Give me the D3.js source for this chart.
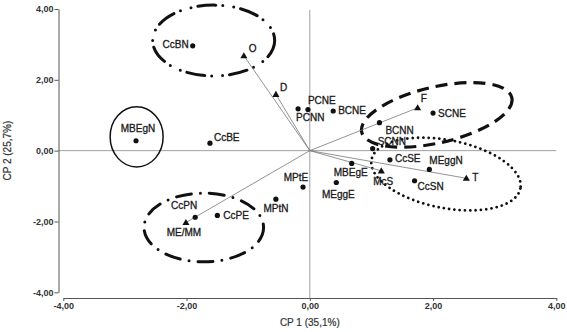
<!DOCTYPE html>
<html>
<head>
<meta charset="utf-8">
<script src="https://cdn.jsdelivr.net/npm/d3@7"></script>
<style>
  body { margin: 0; background: #fff; }
  svg { display: block; }
  text { font-family: "Liberation Sans", Arial, Helvetica, sans-serif; }
</style>
</head>
<body>
<svg id="chart" width="567" height="332"></svg>
<script>
// Observation scores on the first two principal components
const pointNames = ["CcBN", "MBEgN", "CcBE", "PCNN", "PCNE", "BCNE", "SCNE", "BCNN", "SCNN",
                    "CcSE", "MEggN", "MBEgE", "CcSN", "MEggE", "MPtE", "MPtN", "CcPE", "CcPN"];
const pointX = [-1.90, -2.82, -1.62, -0.19, -0.03, 0.38, 2.00, 1.13, 1.02,
                 1.30, 1.94, 0.68, 1.70, 0.43, -0.11, -0.55, -1.50, -1.86];
const pointY = [2.96, 0.28, 0.21, 1.18, 1.16, 1.12, 1.06, 0.79, 0.06,
                -0.26, -0.53, -0.36, -0.85, -0.90, -1.03, -1.37, -1.83, -1.88];

// Variable loadings, drawn as vectors from the origin
const vectorNames = ["O", "D", "F", "T", "McS", "ME/MM"];
const vectorX = [-1.07, -0.55, 1.75, 2.54, 1.16, -2.01];
const vectorY = [2.68, 1.59, 1.21, -0.78, -0.57, -2.03];

// Axes
const tickValues = [-4, -2, 0, 2, 4];
const xTitle = "CP 1 (35,1%)";
const yTitle = "CP 2 (25,7%)";

// Group outlines: centre, radii (in axis units) and tilt (degrees on screen)
const groupNames = ["topGroup", "isolated", "bottomGroup", "upperRight", "lowerRight"];
const groupCx = [-1.56, -2.81, -1.72, 2.06, 2.21];
const groupCy = [3.11, 0.39, -2.17, 1.01, -0.66];
const groupRx = [0.99, 0.43, 0.97, 1.25, 1.23];
const groupRy = [1.00, 0.85, 0.97, 0.79, 0.96];
const groupTilt = [0, 0, 0, -13, 11];

// ---- layout ----
const svg = d3.select("#chart");
const x = d3.scaleLinear().domain([-4, 4]).range([63.3, 556.3]);
const y = d3.scaleLinear().domain([-4, 4]).range([292.3, 9]);
const xAxisY = 298;
const yAxisX = 58.5;

const locale = d3.formatLocale({ decimal: ",", thousands: ".", grouping: [3], currency: ["", ""], minus: "-" });
const fmt = locale.format(".2f");

// label placement around each mark
const labelPos = {
  CcBN:  { dx: -4, dy: -1, anchor: "end" },
  MBEgN: { dx: 2, dy: -12, anchor: "middle" },
  CcBE:  { dx: 4, dy: -6, anchor: "start" },
  PCNN:  { dx: -2, dy: 9, anchor: "start" },
  PCNE:  { dx: 0, dy: -9, anchor: "start" },
  BCNE:  { dx: 5, dy: 0, anchor: "start" },
  SCNE:  { dx: 5, dy: 0, anchor: "start" },
  BCNN:  { dx: 6, dy: 8, anchor: "start" },
  SCNN:  { dx: 5, dy: -7, anchor: "start" },
  CcSE:  { dx: 5, dy: -1, anchor: "start" },
  MEggN: { dx: 0, dy: -9, anchor: "start" },
  MBEgE: { dx: -1, dy: 9, anchor: "middle" },
  CcSN:  { dx: 3, dy: 6, anchor: "start" },
  MEggE: { dx: 2, dy: 12, anchor: "middle" },
  MPtE:  { dx: -7, dy: -10, anchor: "middle" },
  MPtN:  { dx: 0, dy: 9, anchor: "middle" },
  CcPE:  { dx: 6, dy: 0, anchor: "start" },
  CcPN:  { dx: -11, dy: -12, anchor: "middle" },
  "O":     { dx: 5, dy: -7, anchor: "start" },
  "D":     { dx: 4, dy: -7, anchor: "start" },
  "F":     { dx: 3, dy: -9, anchor: "start" },
  "T":     { dx: 6, dy: -1, anchor: "start" },
  "McS":   { dx: 2, dy: 11, anchor: "middle" },
  "ME/MM": { dx: -2, dy: 10, anchor: "middle" }
};

const groupStyle = {
  topGroup:    { width: 3, dash: "18 7 0 11 0 7", cap: "round" },
  isolated:    { width: 1.5, dash: null, cap: "butt" },
  bottomGroup: { width: 3, dash: "15 9 0 9", cap: "round" },
  upperRight:  { width: 3.2, dash: "12 7", cap: "butt" },
  lowerRight:  { width: 2.8, dash: "0 5.3", cap: "round" }
};

// reference lines through the origin
svg.append("line")
  .attr("x1", x(0)).attr("x2", x(0))
  .attr("y1", y(4) + 1).attr("y2", xAxisY)
  .attr("stroke", "#a0a0a0").attr("stroke-width", 1);
svg.append("line")
  .attr("x1", yAxisX).attr("x2", x(4))
  .attr("y1", y(0)).attr("y2", y(0))
  .attr("stroke", "#a0a0a0").attr("stroke-width", 1);

// x axis
const gx = svg.append("g")
  .attr("transform", `translate(0,${xAxisY})`)
  .call(d3.axisBottom(x).tickValues(tickValues).tickSize(3).tickSizeOuter(0).tickPadding(2).tickFormat(fmt));
// y axis
const gy = svg.append("g")
  .attr("transform", `translate(${yAxisX},0)`)
  .call(d3.axisLeft(y).tickValues(tickValues).tickSize(4).tickSizeOuter(0).tickPadding(1).tickFormat(fmt));

[gx, gy].forEach(g => {
  g.select(".domain").attr("stroke", "#555");
  g.selectAll(".tick line").attr("stroke", "#555");
  g.selectAll(".tick text")
    .attr("fill", "#333")
    .style("font-size", "9px")
    .style("font-weight", "bold")
    .style("font-family", "'Liberation Sans', Arial, sans-serif");
});

// axis titles
svg.append("text")
  .attr("x", x(0)).attr("y", 325.5)
  .attr("text-anchor", "middle")
  .attr("fill", "#333")
  .attr("stroke", "#333").attr("stroke-width", 0.2)
  .style("font-size", "10px")
  .text(xTitle);
svg.append("text")
  .attr("transform", `translate(10.5,${y(0)}) rotate(-90)`)
  .attr("text-anchor", "middle")
  .attr("fill", "#333")
  .attr("stroke", "#333").attr("stroke-width", 0.2)
  .style("font-size", "10px")
  .text(yTitle);

// group outlines
const groups = groupNames.map((n, i) => ({
  name: n, cx: groupCx[i], cy: groupCy[i], rx: groupRx[i], ry: groupRy[i], tilt: groupTilt[i]
}));
svg.append("g").selectAll("ellipse")
  .data(groups)
  .join("ellipse")
  .attr("cx", 0).attr("cy", 0)
  .attr("rx", d => x(d.cx + d.rx) - x(d.cx))
  .attr("ry", d => y(d.cy) - y(d.cy + d.ry))
  .attr("transform", d => `translate(${x(d.cx)},${y(d.cy)}) rotate(${d.tilt})`)
  .attr("fill", "none")
  .attr("stroke", "#111")
  .attr("stroke-width", d => groupStyle[d.name].width)
  .attr("stroke-dasharray", d => groupStyle[d.name].dash)
  .attr("stroke-linecap", d => groupStyle[d.name].cap);

// loading vectors
const vectors = vectorNames.map((n, i) => ({ name: n, x: vectorX[i], y: vectorY[i] }));
svg.append("g").selectAll("line")
  .data(vectors)
  .join("line")
  .attr("x1", x(0)).attr("y1", y(0))
  .attr("x2", d => x(d.x)).attr("y2", d => y(d.y))
  .attr("stroke", "#777")
  .attr("stroke-width", 0.8);

const tri = d3.symbol().type(d3.symbolTriangle).size(22);
svg.append("g").selectAll("path")
  .data(vectors)
  .join("path")
  .attr("d", tri)
  .attr("transform", d => `translate(${x(d.x)},${y(d.y) + 0.5})`)
  .attr("fill", "#111");

// observation points
const points = pointNames.map((n, i) => ({ name: n, x: pointX[i], y: pointY[i] }));
svg.append("g").selectAll("circle")
  .data(points)
  .join("circle")
  .attr("cx", d => x(d.x))
  .attr("cy", d => y(d.y))
  .attr("r", 2.6)
  .attr("fill", "#111");

// labels
const labelled = points.concat(vectors);
svg.append("g").selectAll("text")
  .data(labelled)
  .join("text")
  .attr("x", d => x(d.x) + labelPos[d.name].dx)
  .attr("y", d => y(d.y) + labelPos[d.name].dy)
  .attr("dy", "0.35em")
  .attr("text-anchor", d => labelPos[d.name].anchor)
  .attr("fill", "#1a1a1a")
  .attr("stroke", "#1a1a1a")
  .attr("stroke-width", 0.3)
  .style("font-size", "10px")
  .text(d => d.name);
</script>
</body>
</html>
